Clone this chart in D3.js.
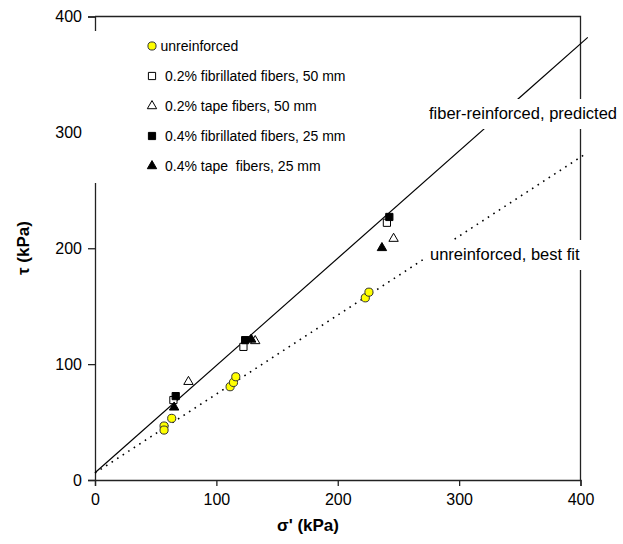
<!DOCTYPE html>
<html>
<head>
<meta charset="utf-8">
<script src="https://cdn.jsdelivr.net/npm/d3@7"></script>
<style>
  html, body { margin: 0; padding: 0; background: #fff; }
  svg { display: block; font-family: "Liberation Sans", Arial, sans-serif; }
</style>
</head>
<body>
<svg id="chart" width="623" height="544"></svg>
<script>
// ---------- data (sigma' kPa, tau kPa)
var xTicks = [0, 100, 200, 300, 400];
var yTicks = [0, 100, 200, 300, 400];

var unreinforced = [[56.9, 46.6], [56.9, 43.1], [63.2, 53.2], [111.3, 80.5], [114.1, 84.2], [116, 89.1], [222.7, 157.2], [225.7, 162.1]];
var fib02 = [[64.6, 69], [122.3, 114.9], [240.5, 222]];
var tape02 = [[77, 84.8], [132, 120], [246, 208.3]];
var fib04 = [[66.5, 72.4], [123.7, 120.7], [242.5, 227]];
var tape04 = [[65.2, 62.7], [128.7, 121.3], [236.4, 200.3]];

var predictedLine = [[0, 6.3], [406, 382]];
var bestFitLine = [[0, 6], [405, 282]];

var seriesNames = ["unreinforced", "0.2% fibrillated fibers, 50 mm", "0.2% tape fibers, 50 mm",
                   "0.4% fibrillated fibers, 25 mm", "0.4% tape  fibers, 25 mm"];

// ---------- setup
var svg = d3.select("#chart");
var x = d3.scaleLinear().domain([0, 400]).range([95, 580.5]);
var y = d3.scaleLinear().domain([0, 400]).range([480, 16.5]);
var axisColor = "#222";

var series = [
    { data: unreinforced, shape: d3.symbolCircle, size: 52, fill: "#ffff00", stroke: "#333" },
    { data: fib02, shape: d3.symbolSquare, size: 52, fill: "#fff", stroke: "#000" },
    { data: tape02, shape: d3.symbolTriangle, size: 38, fill: "#fff", stroke: "#000" },
    { data: fib04, shape: d3.symbolSquare, size: 52, fill: "#000", stroke: "#000" },
    { data: tape04, shape: d3.symbolTriangle, size: 38, fill: "#000", stroke: "#000" }
];

// ---------- axes & frame
var xAxis = d3.axisBottom(x).tickValues(xTicks).tickSize(6).tickPadding(8);
var yAxis = d3.axisLeft(y).tickValues(yTicks).tickSize(7).tickPadding(6);

var gx = svg.append("g").attr("transform", "translate(0," + y(0) + ")").call(xAxis);
var gy = svg.append("g").attr("transform", "translate(" + x(0) + ",0)").call(yAxis);
[gx, gy].forEach(function(g) {
    g.select(".domain").attr("stroke", axisColor).attr("stroke-width", 1.3);
    g.selectAll(".tick line").attr("stroke", axisColor).attr("stroke-width", 1.3);
    g.selectAll(".tick text").attr("fill", "#000").style("font-size", "16px")
        .style("font-family", "'Liberation Sans', Arial, sans-serif");
});

// top and right frame
svg.append("path")
    .attr("d", "M" + x(0) + "," + y(400) + "H" + x(400) + "V" + y(0))
    .attr("fill", "none").attr("stroke", axisColor).attr("stroke-width", 1.3);

// ---------- lines
var line = d3.line().x(function(d) { return x(d[0]); }).y(function(d) { return y(d[1]); });

svg.append("path").datum(predictedLine).attr("d", line)
    .attr("fill", "none").attr("stroke", "#000").attr("stroke-width", 1.2);
svg.append("path").datum(bestFitLine).attr("d", line)
    .attr("fill", "none").attr("stroke", "#000").attr("stroke-width", 1.6)
    .attr("stroke-dasharray", "1.6,5");

// ---------- line labels with white boxes
function lineLabel(text, tx, ty, w) {
    svg.append("rect").attr("x", tx - 4).attr("y", ty - 20).attr("width", w).attr("height", 30).attr("fill", "#fff");
    svg.append("text").attr("x", tx).attr("y", ty).style("font-size", "16.5px").text(text);
}
lineLabel("fiber-reinforced, predicted", 429, 119, 198);
lineLabel("unreinforced, best fit", 430, 260, 157);

// ---------- points
series.forEach(function(s) {
    svg.append("g").selectAll("path").data(s.data).join("path")
        .attr("transform", function(d) { return "translate(" + x(d[0]) + "," + y(d[1]) + ")"; })
        .attr("d", d3.symbol().type(s.shape).size(s.size))
        .attr("fill", s.fill).attr("stroke", s.stroke).attr("stroke-width", 1);
});

// ---------- legend
var legend = svg.append("g");
legend.append("rect").attr("x", 87).attr("y", 31).attr("width", 230).attr("height", 152).attr("fill", "#fff");
series.forEach(function(s, i) {
    var ly = 46 + i * 30;
    legend.append("path")
        .attr("transform", "translate(152," + ly + ")")
        .attr("d", d3.symbol().type(s.shape).size(s.size))
        .attr("fill", s.fill).attr("stroke", s.stroke).attr("stroke-width", 1);
    legend.append("text").attr("x", i === 0 ? 160.5 : 165).attr("y", ly + 5)
        .style("font-size", "14px").style("white-space", "pre").text(seriesNames[i]);
});

// ---------- axis titles
svg.append("text").attr("x", 308).attr("y", 531).attr("text-anchor", "middle")
    .style("font-size", "17px").style("font-weight", "bold").text("σ' (kPa)");
svg.append("text").attr("transform", "translate(29,248) rotate(-90)").attr("text-anchor", "middle")
    .style("font-size", "17px").style("font-weight", "bold").text("τ (kPa)");
</script>
</body>
</html>
